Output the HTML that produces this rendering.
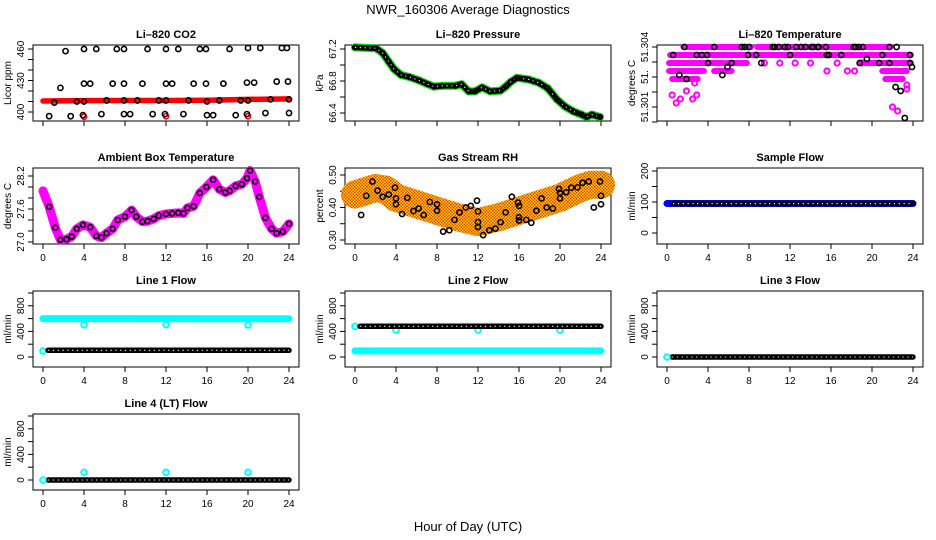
<!DOCTYPE html>
<html><head><meta charset="utf-8"><style>
html,body{margin:0;padding:0;background:#fff;overflow:hidden;}
svg{display:block;font-family:"Liberation Sans",Arial,sans-serif;}
</style></head><body>
<svg id="chart" width="936" height="540" viewBox="0 0 936 540" xmlns="http://www.w3.org/2000/svg">
<defs>
<pattern id="rhPat" width="3" height="3" patternUnits="userSpaceOnUse">
<rect width="3" height="3" fill="#ffd700"/><rect width="1.5" height="1.5" fill="#f04000"/><rect x="1.5" y="1.5" width="1.5" height="1.5" fill="#f04000"/>
</pattern>
</defs>
<text x="468" y="14" font-size="13" text-anchor="middle">NWR_160306  Average Diagnostics</text>
<text x="468" y="531" font-size="13" text-anchor="middle">Hour of Day (UTC)</text>
</svg>
<script>
// ---- CO2 ----
const co2RedHours=[0,4,8,12,16,20,24];
const co2RedVals=[410.5,410.8,411,411,411.2,412,412.5];
const co2RedOutHours=[4,12,20];
const co2RedOutVals=[395.5,396,396];
const co2BlackHours=[2.2,4,5.2,7.2,7.9,10.2,12,13.2,15.3,15.9,18.2,20,21.2,23.3,23.8,
 1.7,4,4.6,6.8,7.9,9.7,12,12.6,14.7,15.9,17.6,19.9,20.6,22.8,23.9,
 1.1,3.3,4,6.2,7.9,9.2,11.3,12,14.2,16,17.2,19.3,20,22.2,24,
 0.6,2.7,3.9,5.7,7.9,8.5,10.7,11.9,13.7,16,16.6,18.8,19.9,21.7,24];
const co2BlackVals=[458,460,460,460,460,460,460,460,460,460,460,461,461,461,461,
 423,427,427,427,427,427,427,427,427,427,427,428,428,429,429,
 409,410,410,411,411,411,411,411,411,410,411,411,411,412,412,
 396,396,397,398,398,398,398,398,398,397,397,397,398,399,399];
// ---- Pressure ----
const presHours=[0,2.05,2.7,3.3,3.8,4.5,5.3,6.2,7.1,7.7,8.5,9.8,10.4,11.1,11.7,12.4,13.2,14.2,14.7,15.2,15.8,16.9,17.9,18.8,19.7,20.5,21.3,22.1,22.6,23.1,23.9];
const presVals=[67.22,67.21,67.15,67.04,66.95,66.875,66.85,66.81,66.76,66.73,66.74,66.74,66.76,66.67,66.67,66.72,66.67,66.68,66.73,66.79,66.84,66.82,66.78,66.71,66.57,66.48,66.42,66.38,66.35,66.38,66.35];
// ---- Li-820 temperature ----
const tempBandLevels=[51.304,51.304,51.3036,51.3032,51.3032,51.3032,51.3028,51.3028,51.3028,51.3024,51.3024];
const tempBandStarts=[1.6,8.8,0.3,0.2,5.8,18.8,0.2,4.6,21,0.5,21.3];
const tempBandEnds=[8.2,21.8,23.8,5.5,7.8,23.8,3.6,6.3,23.4,3,23];
const tempPinkHours=[0.5,0.9,1.3,1.9,2.5,2.7,2.9,22,22.5,23.4,23.4,9.5,11,12.5,14,15.6,17.6,18.3,16.6,19];
const tempPinkVals=[51.3016,51.3012,51.3014,51.3018,51.3014,51.3022,51.3016,51.301,51.3008,51.3021,51.3019,51.3032,51.3032,51.3032,51.3032,51.3028,51.3028,51.3028,51.3032,51.3032];
const tempBlackHours=[1.7,4.6,7.3,7.6,8,10.3,10.5,10.9,11.5,11.8,12.6,13.1,13.5,14.1,14.3,14.7,14.8,15.5,18.2,18.4,18.7,19.1,21.7,22.4,
 0.6,2.9,3.4,3.9,7.9,8.7,12,15.6,15.8,17,21,23.7,
 4,6.3,9.2,18.8,20.7,21.7,23.7,1.2,1.9,5.4,5.9,19.5,23.9,22.3,22.8,23.2];
const tempBlackVals=[51.304,51.304,51.304,51.304,51.304,51.304,51.304,51.304,51.304,51.304,51.304,51.304,51.304,51.304,51.304,51.304,51.304,51.304,51.304,51.304,51.304,51.304,51.304,51.304,
 51.3036,51.3036,51.3036,51.3036,51.3036,51.3036,51.3036,51.3036,51.3036,51.3036,51.3036,51.3036,
 51.3032,51.3032,51.3032,51.3032,51.3032,51.3032,51.3032,51.3026,51.3024,51.3026,51.303,51.3034,51.303,51.302,51.3018,51.30045];
// ---- Ambient box temperature ----
const ambHours=[0,0.6,1.2,1.7,2.3,2.8,3.3,3.9,4.6,5.2,5.7,6.2,6.8,7.3,8,8.65,9.1,9.7,10.2,10.8,11.3,12,12.6,13.2,13.7,14.1,14.7,15.3,15.95,16.6,17.2,17.8,18.2,18.8,19.4,19.9,20.2,20.7,21.1,21.7,22.3,22.8,23.4,24];
const ambVals=[27.93,27.64,27.26,27.04,27.05,27.1,27.24,27.31,27.27,27.11,27.08,27.16,27.24,27.4,27.46,27.58,27.46,27.37,27.38,27.42,27.48,27.51,27.52,27.53,27.52,27.62,27.65,27.89,28.0,28.13,27.96,27.9,27.93,28.02,28.05,28.16,28.3,28.1,27.82,27.44,27.24,27.16,27.19,27.33];
// ---- Gas stream RH ----
const rhBandHours=[0,1,2,3,4,6,8,10,12,14,16,18,20,22,23,24];
const rhBandVals=[0.44,0.45,0.46,0.455,0.43,0.41,0.39,0.37,0.355,0.37,0.39,0.41,0.43,0.46,0.47,0.47];
const rhBlackHours=[0.6,1.1,1.7,2.2,2.7,3.3,3.9,4,4,4.6,5.1,5.7,6.2,6.7,7.3,8,8,8.6,9.2,9.7,10.2,10.8,11.3,11.9,12,12,12,12.5,13.1,13.7,14.2,14.7,15.3,15.9,16,16,16,16.7,17.2,17.7,18.2,18.7,19.3,19.9,20,20,20.6,21.1,21.7,22.2,22.8,23.3,23.9,24,24];
const rhBlackVals=[0.377,0.436,0.48,0.452,0.433,0.44,0.461,0.428,0.41,0.38,0.43,0.389,0.397,0.377,0.417,0.41,0.39,0.326,0.33,0.362,0.385,0.4,0.405,0.421,0.388,0.355,0.34,0.315,0.33,0.335,0.355,0.385,0.433,0.415,0.405,0.37,0.36,0.362,0.353,0.39,0.428,0.4,0.397,0.457,0.445,0.428,0.447,0.461,0.462,0.476,0.48,0.4,0.48,0.436,0.41];
// ---- Sample flow ----
const sampleHours=[0,24];
const sampleVals=[95,95];
// ---- Line flows ----
const line1HiHours=[0,24];const line1HiVals=[600,598];
const line1LoHours=[0.5,24];const line1LoVals=[105,105];
const line1DipHours=[0,4,12,20];const line1DipVals=[95,505,505,500];
const line2HiHours=[0.5,24];const line2HiVals=[480,480];
const line2LoHours=[0,24];const line2LoVals=[95,95];
const line2DipHours=[0,4,12,20];const line2DipVals=[480,420,420,420];
const line3Hours=[0.5,24];const line3Vals=[0,0];
const line3CyanHours=[0];const line3CyanVals=[0];
const line4Hours=[0.5,24];const line4Vals=[0,0];
const line4CyanHours=[0,4,12,20];const line4CyanVals=[0,120,120,120];

const NS="http://www.w3.org/2000/svg";
const svg=document.getElementById('chart');
function mk(tag,attrs,parent){const e=document.createElementNS(NS,tag);for(const k in attrs)e.setAttribute(k,attrs[k]);(parent||svg).appendChild(e);return e;}

function panel(o){
  const left=33+312*o.col,right=299+312*o.col,top=45+123*o.row,bottom=121+123*o.row;
  const x0=43+312*o.col,kx=10.25;
  const pa=o.pA+123*o.row,pb=o.pB+123*o.row;
  const X=h=>x0+h*kx;
  const Y=v=>pa+(v-o.vA)*(pb-pa)/(o.vB-o.vA);
  const g=mk('g',{});
  
  
  const box=mk('rect',{x:left,y:top,width:right-left,height:bottom-top,fill:'none',stroke:'#000','stroke-width':1},g);
  
  
  const t=mk('text',{x:(left+right)/2,y:top-7,'font-size':11,'font-weight':'bold','text-anchor':'middle'},g);
  t.textContent=o.title;
  
  
  const yl=mk('text',{x:0,y:0,'font-size':10,'text-anchor':'middle',transform:`translate(${left-22},${(top+bottom)/2}) rotate(-90)`},g);
  yl.textContent=o.ylab;
  
  
  const ya=mk('line',{x1:left,x2:left,y1:Y(o.ticks[0]),y2:Y(o.ticks[o.ticks.length-1]),stroke:'#000'},g);
  
  
  o.ticks.forEach((v,i)=>{
    const tk=mk('line',{x1:left-5,x2:left,y1:Y(v),y2:Y(v),stroke:'#000'},g);
    
    
    if(o.labels[i]){
      const lb=mk('text',{x:0,y:0,'font-size':10,'text-anchor':'middle',transform:`translate(${left-9},${Y(v)}) rotate(-90)`},g);
      lb.textContent=o.labels[i];
      
      
    }
  });
  const xa=mk('line',{x1:X(0),x2:X(24),y1:bottom,y2:bottom,stroke:'#000'},g);
  
  
  [0,4,8,12,16,20,24].forEach(h=>{
    const tk=mk('line',{x1:X(h),x2:X(h),y1:bottom,y2:bottom+5,stroke:'#000'},g);
    
    
    if(o.row>0){
      const lb=mk('text',{x:X(h),y:bottom+17,'font-size':10,'text-anchor':'middle'},g);
      lb.textContent=String(h);
      
      
    }
  });
  return {X,Y,g};
}
function band(p,hs,vs,color,w,name){
  const pts=hs.map((h,i)=>p.X(h)+','+p.Y(vs[i])).join(' ');
  const e=mk('polyline',{points:pts,fill:'none',stroke:color,'stroke-width':w,'stroke-linejoin':'round','stroke-linecap':'round'},p.g);
  
  
  return e;
}
function dots(p,hs,vs,color,name,r,sw){
  hs.forEach((h,i)=>{
    const e=mk('circle',{cx:p.X(h),cy:p.Y(vs[i]),r:r||2.6,fill:'none',stroke:color,'stroke-width':sw||1.6},p.g);
    
    
  });
}
function chain(p,hs,vs,name){
  band(p,hs,vs,'#000',5.5,name);
  const e=band(p,hs,vs,'#fff',1.1,name+'-highlight');
  e.setAttribute('stroke-dasharray','1.2,3.6');
  e.setAttribute('stroke-linecap','butt');
}

// CO2
let p=panel({name:'co2-panel',col:0,row:0,title:'Li\u2013820 CO2',ylab:'Licor ppm',vA:460,pA:49,vB:400,pB:112,ticks:[400,410,420,430,440,450,460],labels:['400','','','430','','','460']});
band(p,co2RedHours,co2RedVals,'#ff0000',5.5,'co2-red-series');
dots(p,co2RedOutHours,co2RedOutVals,'#ff0000','co2-red-point');
dots(p,co2BlackHours,co2BlackVals,'#000','co2-black-point');
// Pressure
p=panel({name:'pressure-panel',col:1,row:0,title:'Li\u2013820 Pressure',ylab:'kPa',vA:67.2,pA:49,vB:66.4,pB:113,ticks:[66.4,66.6,66.8,67.0,67.2],labels:['66.4','','66.8','','67.2']});
band(p,presHours,presVals,'#00e000',8,'pressure-green-series');
chain(p,presHours,presVals,'pressure-black-series');
dots(p,presHours,presVals,'#000','pressure-point',2.4,1.4);
// Li-820 temp
p=panel({name:'li820-temperature-panel',col:2,row:0,title:'Li\u2013820 Temperature',ylab:'degrees C',vA:51.304,pA:47,vB:51.301,pB:107,ticks:[51.30025,51.301,51.30175,51.3025,51.30325,51.304],labels:['','51.301','','51.','','51.304']});
tempBandLevels.forEach((lv,i)=>{band(p,[tempBandStarts[i],tempBandEnds[i]],[lv,lv],'#ff00ff',6,'temperature-magenta-band');});
dots(p,tempPinkHours,tempPinkVals,'#ff00ff','temperature-magenta-point',2.6,2);
dots(p,tempBlackHours,tempBlackVals,'#000','temperature-black-point');
// Ambient (row 1; pixel refs given in row-0 coordinates)
p=panel({name:'ambient-temperature-panel',col:0,row:1,title:'Ambient Box Temperature',ylab:'degrees C',vA:28.2,pA:53,vB:27.0,pB:119,ticks:[27.0,27.2,27.4,27.6,27.8,28.0,28.2],labels:['27.0','','','27.6','','','28.2']});
band(p,ambHours,ambVals,'#ff00ff',9,'ambient-magenta-series');
dots(p,ambHours.slice(1),ambVals.slice(1),'#000','ambient-black-point',2.5,1.6);
// RH
p=panel({name:'gas-rh-panel',col:1,row:1,title:'Gas Stream RH',ylab:'percent',vA:0.5,pA:52,vB:0.3,pB:117,ticks:[0.30,0.35,0.40,0.45,0.50],labels:['0.30','','0.40','','0.50']});
band(p,rhBandHours,rhBandVals,'url(#rhPat)',28,'rh-orange-cloud');
dots(p,rhBlackHours,rhBlackVals,'#000','rh-black-point');
// Sample flow
p=panel({name:'sample-flow-panel',col:2,row:1,title:'Sample Flow',ylab:'ml/min',vA:200,pA:48,vB:0,pB:110,ticks:[0,50,100,150,200],labels:['0','','100','','200']});
band(p,sampleHours,sampleVals,'#0000ff',7,'sample-flow-blue-series');
chain(p,[0.6,24],[95,95],'sample-flow-black-series');
// Line flows
const lf={vA:1000,pA:47,vB:0,pB:111,ticks:[0,200,400,600,800,1000],labels:['0','','400','','800','']};
p=panel(Object.assign({name:'line1-flow-panel',col:0,row:2,title:'Line 1 Flow',ylab:'ml/min'},lf));
band(p,line1HiHours,line1HiVals,'#00ffff',7,'line1-cyan-series');
dots(p,line1DipHours,line1DipVals,'#00ffff','line1-cyan-point',2.8,2);
chain(p,line1LoHours,line1LoVals,'line1-black-series');
p=panel(Object.assign({name:'line2-flow-panel',col:1,row:2,title:'Line 2 Flow',ylab:'ml/min'},lf));
band(p,line2LoHours,line2LoVals,'#00ffff',7,'line2-cyan-series');
dots(p,line2DipHours,line2DipVals,'#00ffff','line2-cyan-point',2.8,2);
chain(p,line2HiHours,line2HiVals,'line2-black-series');
p=panel(Object.assign({name:'line3-flow-panel',col:2,row:2,title:'Line 3 Flow',ylab:'ml/min'},lf));
chain(p,line3Hours,line3Vals,'line3-black-series');
dots(p,line3CyanHours,line3CyanVals,'#00ffff','line3-cyan-point',2.8,2);
p=panel(Object.assign({name:'line4-flow-panel',col:0,row:3,title:'Line 4 (LT) Flow',ylab:'ml/min'},lf));
chain(p,line4Hours,line4Vals,'line4-black-series');
dots(p,line4CyanHours,line4CyanVals,'#00ffff','line4-cyan-point',2.8,2);
</script>
</body></html>
